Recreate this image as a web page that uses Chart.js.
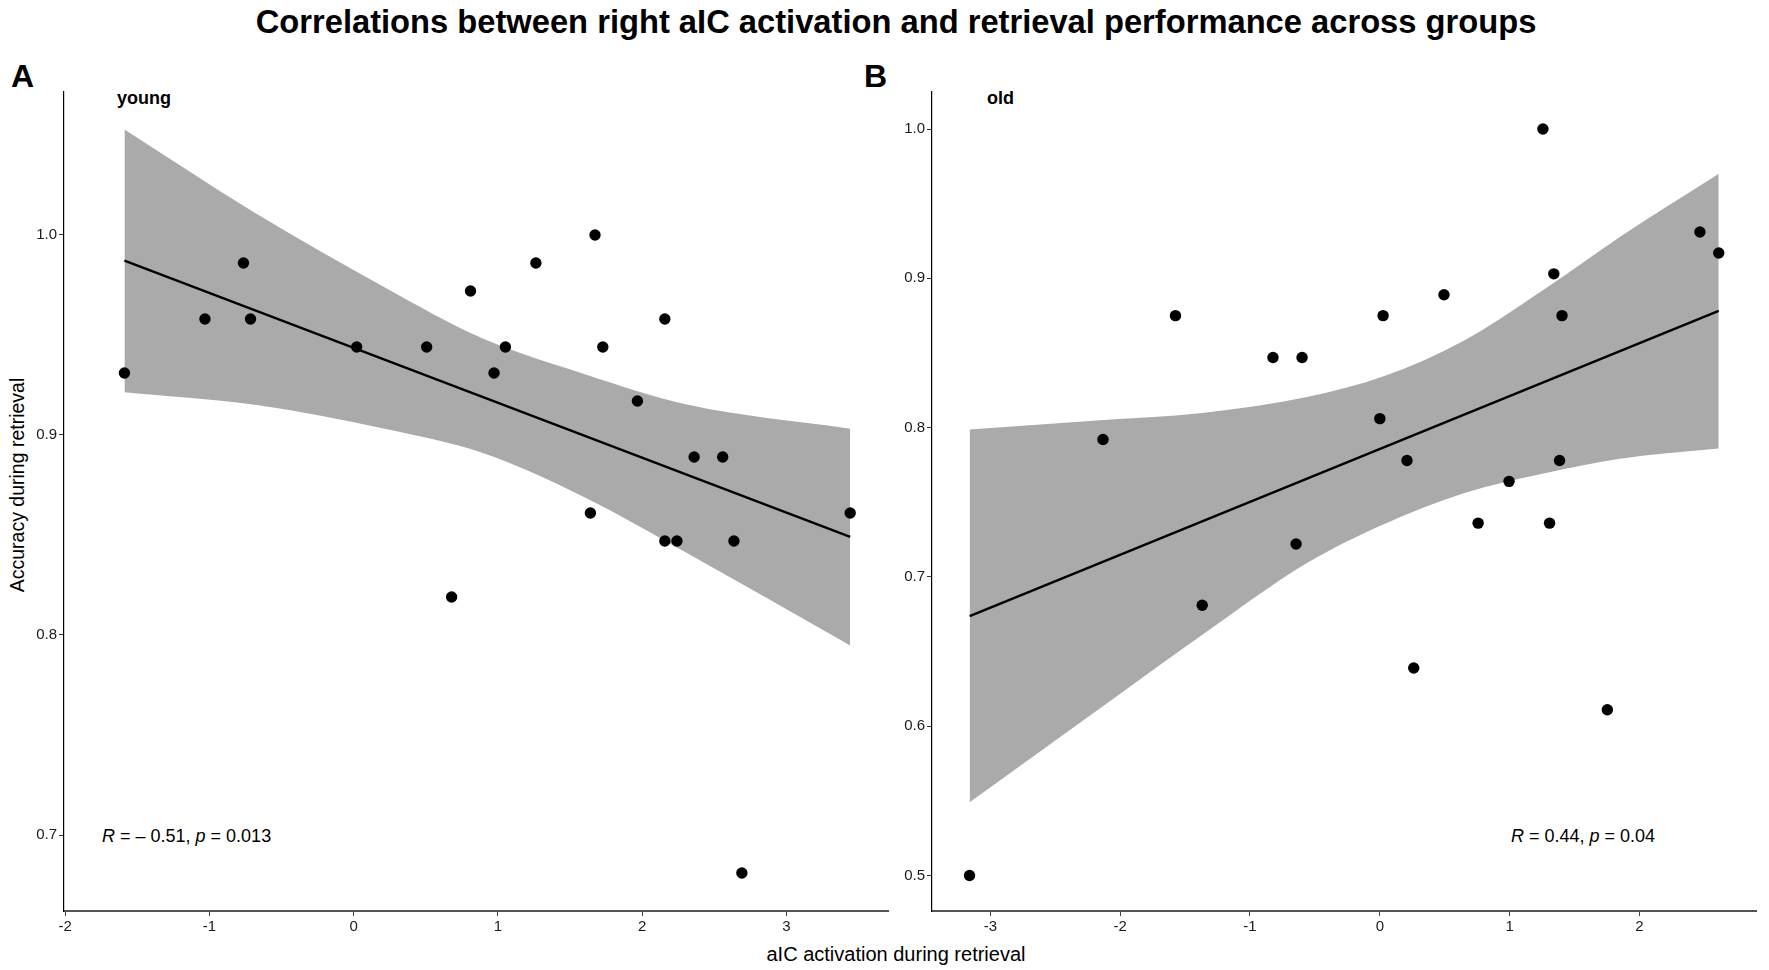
<!DOCTYPE html>
<html>
<head>
<meta charset="utf-8">
<script src="https://cdn.jsdelivr.net/npm/chart.js@4.4.1/dist/chart.umd.min.js"></script>
<style>
  body { margin: 0; background: #fff; }
  #wrap { position: relative; width: 1769px; height: 970px; overflow: hidden; font-family: "Liberation Sans", Arial, sans-serif; color: #000; }
  .txt { position: absolute; white-space: nowrap; line-height: 1; }
  canvas { position: absolute; top: 0; }
</style>
</head>
<body>
<div id="wrap">
  <div class="txt" style="left:896px; top:6px; font-size:32.7px; font-weight:bold; transform:translateX(-50%);">Correlations between right aIC activation and retrieval performance across groups</div>
  <div class="txt" style="left:11px; top:60px; font-size:32px; font-weight:bold;">A</div>
  <div class="txt" style="left:864px; top:60px; font-size:32px; font-weight:bold;">B</div>
  <div class="txt" style="left:117px; top:89px; font-size:18px; font-weight:bold;">young</div>
  <div class="txt" style="left:987px; top:89px; font-size:18px; font-weight:bold;">old</div>
  <div class="txt" style="left:102px; top:827px; font-size:18px;"><i>R</i> = &#8211; 0.51, <i>p</i> = 0.013</div>
  <div class="txt" style="left:1511px; top:827px; font-size:18px;"><i>R</i> = 0.44, <i>p</i> = 0.04</div>
  <div class="txt" style="left:896px; top:944px; font-size:20px; transform:translateX(-50%);">aIC activation during retrieval</div>
  <div class="txt" style="left:18px; top:485px; font-size:19.5px; transform:translate(-50%,-50%) rotate(-90deg);">Accuracy during retrieval</div>
  <div style="position:absolute; left:0; top:0; width:900px; height:970px;"><canvas id="young"></canvas></div>
  <div style="position:absolute; left:880px; top:0; width:889px; height:970px;"><canvas id="old"></canvas></div>
</div>
<script>
// young group: activation (x) and accuracy (y)
const youngX = [-1.589, -1.031, -0.764, -0.715, 0.021, 0.506, 0.810, 0.973, 1.052, 1.263, 1.673, 1.727,
                1.967, 2.157, 2.360, 2.558, 0.679, 1.641, 2.157, 2.241, 2.636, 2.691, 3.442];
const youngY = [0.931, 0.958, 0.986, 0.958, 0.944, 0.944, 0.972, 0.931, 0.944, 0.986, 1.000, 0.944,
                0.917, 0.958, 0.889, 0.889, 0.819, 0.861, 0.847, 0.847, 0.847, 0.681, 0.861];

// old group
const oldX = [-3.160, -2.132, -1.574, -1.368, -0.823, -0.599, -0.645, 0.000, 0.025, 0.209, 0.261,
              0.494, 0.757, 0.995, 1.256, 1.307, 1.340, 1.384, 1.403, 1.752, 2.465, 2.610];
const oldY = [0.500, 0.792, 0.875, 0.681, 0.847, 0.847, 0.722, 0.806, 0.875, 0.778, 0.639,
              0.889, 0.736, 0.764, 1.000, 0.736, 0.903, 0.778, 0.875, 0.611, 0.931, 0.917];

// fitted lines (end points)
const youngFitX = [-1.589, 3.442];
const youngFitY = [0.9872, 0.8491];
const oldFitX = [-3.159, 2.610];
const oldFitY = [0.6737, 0.8782];

// confidence bands (edges)
const youngBandX = [-1.589, -0.697, 0.223, 0.895, 1.603, 2.310, 3.442];
const youngBandUpper = [1.0527, 1.0116, 0.9735, 0.9482, 0.9304, 0.9152, 0.9031];
const youngBandLower = [0.9214, 0.9152, 0.9030, 0.8910, 0.8688, 0.8410, 0.7947];
const oldBandX = [-3.159, -2.181, -1.367, -0.561, 0.035, 0.639, 1.244, 1.848, 2.610];
const oldBandUpper = [0.7987, 0.8048, 0.8098, 0.8205, 0.8345, 0.8578, 0.8913, 0.9277, 0.9700];
const oldBandLower = [0.5490, 0.6103, 0.6612, 0.7093, 0.7355, 0.7559, 0.7690, 0.7792, 0.7860];

// tick labels
const youngXTicks = [-2, -1, 0, 1, 2, 3];
const youngYTicks = [0.7, 0.8, 0.9, 1.0];
const oldXTicks = [-3, -2, -1, 0, 1, 2];
const oldYTicks = [0.5, 0.6, 0.7, 0.8, 0.9, 1.0];

const FONT = '"Liberation Sans", Arial, sans-serif';
const pts = (xs, ys) => xs.map((x, i) => ({ x: x, y: ys[i] }));

function makePanel(id, cfg) {
  const ctx = document.getElementById(id).getContext('2d');
  return new Chart(ctx, {
    type: 'scatter',
    data: {
      datasets: [
        {
          data: pts(cfg.x, cfg.y),
          pointRadius: 5.7,
          pointBackgroundColor: '#000',
          pointBorderWidth: 0,
          order: 0
        },
        {
          data: pts(cfg.fitX, cfg.fitY),
          showLine: true,
          borderColor: '#000',
          borderWidth: 2.4,
          pointRadius: 0,
          order: 1
        },
        {
          data: pts(cfg.bandX, cfg.upper),
          showLine: true,
          borderWidth: 0,
          borderColor: 'rgba(0,0,0,0)',
          pointRadius: 0,
          cubicInterpolationMode: 'monotone',
          fill: '+1',
          backgroundColor: '#aaaaaa',
          order: 2
        },
        {
          data: pts(cfg.bandX, cfg.lower),
          showLine: true,
          borderWidth: 0,
          borderColor: 'rgba(0,0,0,0)',
          pointRadius: 0,
          cubicInterpolationMode: 'monotone',
          order: 3
        }
      ]
    },
    options: {
      responsive: true,
      maintainAspectRatio: false,
      animation: false,
      layout: { padding: { left: 0, top: 92, right: cfg.padRight, bottom: 29 } },
      plugins: { legend: { display: false }, tooltip: { enabled: false } },
      scales: {
        x: {
          type: 'linear',
          min: cfg.xMin,
          max: cfg.xMax,
          afterBuildTicks: (s) => { s.ticks = cfg.xTicks.map(v => ({ value: v })); },
          afterFit: (s) => { s.height = 30; },
          border: { display: true, color: '#555', width: 2 },
          grid: { display: true, drawOnChartArea: false, drawTicks: true, tickLength: 5, tickColor: '#444', tickWidth: 1 },
          ticks: {
            autoSkip: false, maxRotation: 0, padding: 2, color: '#1a1a1a',
            font: { family: FONT, size: 15 },
            callback: (v) => String(v)
          }
        },
        y: {
          type: 'linear',
          min: cfg.yMin,
          max: cfg.yMax,
          afterBuildTicks: (s) => { s.ticks = cfg.yTicks.map(v => ({ value: v })); },
          afterFit: (s) => { s.width = cfg.yWidth; },
          border: { display: true, color: '#000', width: 1.2 },
          grid: { display: true, drawOnChartArea: false, drawTicks: true, tickLength: 5, tickColor: '#333', tickWidth: 1 },
          ticks: {
            autoSkip: false, padding: 2, color: '#1a1a1a',
            font: { family: FONT, size: 15 },
            callback: (v) => Number(v).toFixed(1)
          }
        }
      }
    }
  });
}

makePanel('young', {
  x: youngX, y: youngY, fitX: youngFitX, fitY: youngFitY,
  bandX: youngBandX, upper: youngBandUpper, lower: youngBandLower,
  xTicks: youngXTicks, yTicks: youngYTicks,
  xMin: -2.008, xMax: 3.704, yMin: 0.662, yMax: 1.0715,
  yWidth: 64, padRight: 12
});

makePanel('old', {
  x: oldX, y: oldY, fitX: oldFitX, fitY: oldFitY,
  bandX: oldBandX, upper: oldBandUpper, lower: oldBandLower,
  xTicks: oldXTicks, yTicks: oldYTicks,
  xMin: -3.449, xMax: 2.897, yMin: 0.4762, yMax: 1.0248,
  yWidth: 52, padRight: 13
});
</script>
</body>
</html>
